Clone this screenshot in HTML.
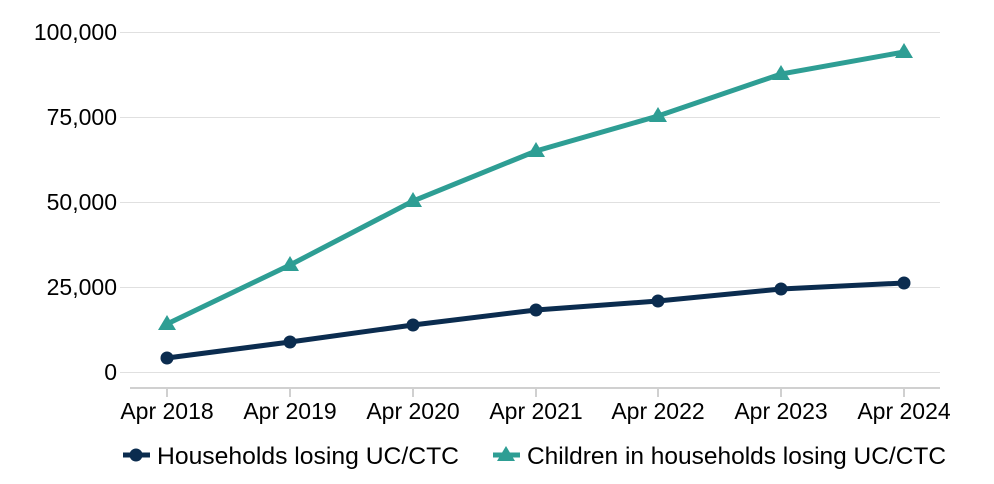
<!DOCTYPE html>
<html><head><style>body{margin:0;background:#fff}svg{display:block}</style></head><body>
<svg width="994" height="484" xmlns="http://www.w3.org/2000/svg" font-family="Liberation Sans, sans-serif" font-size="23" fill="#000">
<g stroke="#e0e0e0" stroke-width="1">
<line x1="120" x2="940" y1="32.5" y2="32.5"/><line x1="120" x2="940" y1="117.5" y2="117.5"/>
<line x1="120" x2="940" y1="202.5" y2="202.5"/><line x1="120" x2="940" y1="287.5" y2="287.5"/>
<line x1="120" x2="940" y1="372.5" y2="372.5"/>
</g>
<line x1="130" x2="940" y1="388" y2="388" stroke="#d0d0d0" stroke-width="2"/>
<g stroke="#d0d0d0" stroke-width="2">
<line x1="167" x2="167" y1="388" y2="397"/><line x1="290" x2="290" y1="388" y2="397"/><line x1="413" x2="413" y1="388" y2="397"/><line x1="536" x2="536" y1="388" y2="397"/><line x1="658" x2="658" y1="388" y2="397"/><line x1="781" x2="781" y1="388" y2="397"/><line x1="904" x2="904" y1="388" y2="397"/>
</g>
<g text-anchor="end">
<text x="117" y="40">100,000</text><text x="117" y="125">75,000</text><text x="117" y="210">50,000</text><text x="117" y="295">25,000</text><text x="117" y="380">0</text>
</g>
<g text-anchor="middle">
<text x="167" y="419">Apr 2018</text><text x="290" y="419">Apr 2019</text><text x="413" y="419">Apr 2020</text><text x="536" y="419">Apr 2021</text><text x="658" y="419">Apr 2022</text><text x="781" y="419">Apr 2023</text><text x="904" y="419">Apr 2024</text>
</g>
<polyline fill="none" stroke="#2e9e94" stroke-width="5" points="167,324 290,265 413,201 536,151 658,116 781,74 904,52"/>
<g fill="#2e9e94">
<polygon points="167,315 158,330 176,330"/><polygon points="290,256 281,271 299,271"/><polygon points="413,192 404,207 422,207"/><polygon points="536,142 527,157 545,157"/><polygon points="658,107 649,122 667,122"/><polygon points="781,65 772,80 790,80"/><polygon points="904,43 895,58 913,58"/>
</g>
<polyline fill="none" stroke="#0b2c4f" stroke-width="5" points="167,358 290,342 413,325 536,310 658,301 781,289 904,283"/>
<g fill="#0b2c4f">
<circle cx="167" cy="358" r="6.5"/><circle cx="290" cy="342" r="6.5"/><circle cx="413" cy="325" r="6.5"/><circle cx="536" cy="310" r="6.5"/><circle cx="658" cy="301" r="6.5"/><circle cx="781" cy="289" r="6.5"/><circle cx="904" cy="283" r="6.5"/>
</g>
<line x1="123" x2="150" y1="455" y2="455" stroke="#0b2c4f" stroke-width="5"/>
<circle cx="136" cy="455" r="6.5" fill="#0b2c4f"/>
<text x="157" y="464" font-size="24" textLength="302" lengthAdjust="spacingAndGlyphs">Households losing UC/CTC</text>
<line x1="493" x2="520" y1="455" y2="455" stroke="#2e9e94" stroke-width="5"/>
<polygon points="506,446 497,461 515,461" fill="#2e9e94"/>
<text x="527" y="464" font-size="24" textLength="419" lengthAdjust="spacingAndGlyphs">Children in households losing UC/CTC</text>
</svg>
</body></html>
